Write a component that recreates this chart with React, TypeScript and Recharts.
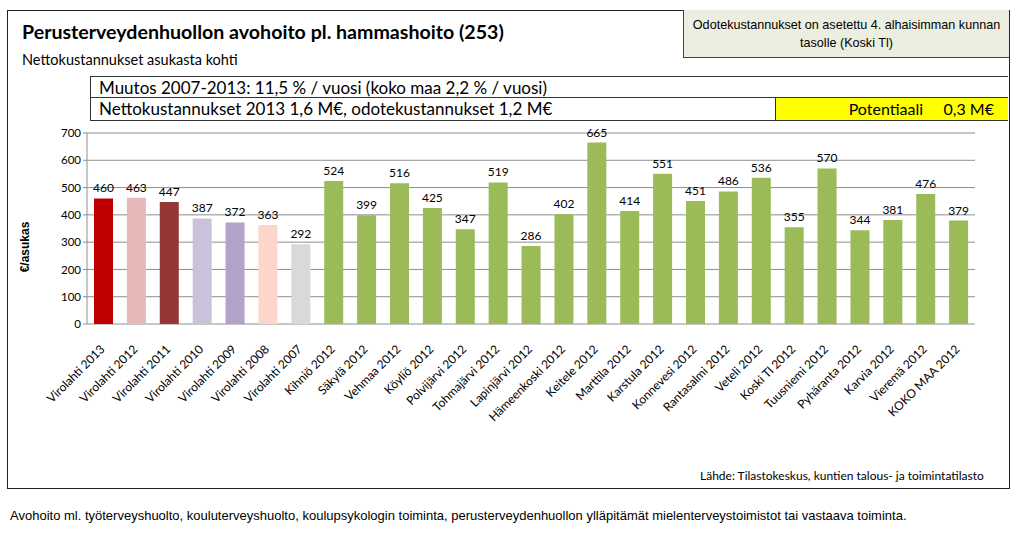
import React from "react"
import { BarChart, Bar, XAxis, YAxis, CartesianGrid, Cell, LabelList } from "recharts"

const categories = [
  "Virolahti 2013", "Virolahti 2012", "Virolahti 2011", "Virolahti 2010", "Virolahti 2009",
  "Virolahti 2008", "Virolahti 2007", "Kihniö 2012", "Säkylä 2012", "Vehmaa 2012",
  "Köyliö 2012", "Polvijärvi 2012", "Tohmajärvi 2012", "Lapinjärvi 2012", "Hämeenkoski 2012",
  "Keitele 2012", "Marttila 2012", "Karstula 2012", "Konnevesi 2012", "Rantasalmi 2012",
  "Veteli 2012", "Koski Tl 2012", "Tuusniemi 2012", "Pyhäranta 2012", "Karvia 2012",
  "Vieremä 2012", "KOKO MAA 2012",
]
const values = [
  460, 463, 447, 387, 372, 363, 292, 524, 399, 516, 425, 347, 519, 286, 402,
  665, 414, 551, 451, 486, 536, 355, 570, 344, 381, 476, 379,
]
const virolahtiColors = ["#c00000", "#e6b9b8", "#953735", "#ccc1da", "#b3a2c7", "#fcd5cb", "#d9d9d9"]
const otherColor = "#9bbb59"
const yTicks = [0, 100, 200, 300, 400, 500, 600, 700]
const edgeTicks = categories.map((_, i) => i).concat(categories.length)

const data = categories.map((name, i) => ({ name, value: values[i] }))

const calibri = "Lato, 'Open Sans', sans-serif"
const arial = "'Liberation Sans', Arial, sans-serif"

function RotatedTick(props: any) {
  const { x, y, payload } = props
  const ax = x + 2
  const ay = y + 18
  return (
    <text x={ax} y={ay} transform={`rotate(-45 ${ax} ${ay})`} textAnchor="end"
      fontSize={12} fill="#000" fontFamily={calibri}>
      {payload.value}
    </text>
  )
}

export default function App() {
  return (
    <div style={{ position: "absolute", left: 0, top: 0, width: 1024, height: 553, background: "#fff" }}>
      <div style={{ position: "absolute", left: 7, top: 10, width: 1001, height: 477, border: "1px solid #222" }} />
      <BarChart width={1024} height={553} data={data} barCategoryGap={7}
        margin={{ top: 133, right: 49, left: 27, bottom: 139 }}
        style={{ position: "absolute", left: 0, top: 0 }}>
        <CartesianGrid vertical={false} stroke="#8e8e8e" />
        <XAxis xAxisId="edge" type="number" domain={[0, categories.length]} ticks={edgeTicks}
          height={0} tick={() => <g />} tickLine={{ stroke: "#8e8e8e" }} tickSize={4} axisLine={{ stroke: "#8e8e8e" }} />
        <XAxis dataKey="name" interval={0} height={90} tick={<RotatedTick />} tickLine={false} axisLine={false} />
        <YAxis width={60} domain={[0, 700]} ticks={yTicks} tickSize={4}
          tick={{ fontSize: 11.5, fill: "#000", fontFamily: calibri }}
          tickLine={{ stroke: "#8e8e8e" }} axisLine={{ stroke: "#8e8e8e" }} />
        <Bar dataKey="value" isAnimationActive={false}>
          {data.map((d, i) => (
            <Cell key={d.name} fill={i < virolahtiColors.length ? virolahtiColors[i] : otherColor} />
          ))}
          <LabelList dataKey="value" position="top" offset={6} fontSize={12} fill="#000" fontFamily={calibri} />
        </Bar>
      </BarChart>

      <div style={{ position: "absolute", left: 22, top: 20, fontFamily: calibri, fontWeight: 700, fontSize: 19.6, color: "#000" }}>
        Perusterveydenhuollon avohoito pl. hammashoito (253)
      </div>
      <div style={{ position: "absolute", left: 22, top: 51, fontFamily: calibri, fontSize: 14.5, color: "#000" }}>
        Nettokustannukset asukasta kohti
      </div>
      <div style={{ position: "absolute", left: 683, top: 10, width: 325, height: 47, background: "#ebeee0",
        border: "1px solid #444", borderTop: "none", borderRight: "none", fontFamily: arial, fontSize: 12.6,
        textAlign: "center", display: "flex", alignItems: "center", justifyContent: "center", lineHeight: "18px" }}>
        Odotekustannukset on asetettu 4. alhaisimman kunnan<br />tasolle (Koski Tl)
      </div>
      <div style={{ position: "absolute", left: 90, top: 76, width: 918, height: 21, borderTop: "1px solid #333",
        borderLeft: "1px solid #333", fontFamily: calibri, fontSize: 17, lineHeight: "21px", paddingLeft: 8, boxSizing: "border-box" }}>
        Muutos 2007-2013: 11,5 % / vuosi (koko maa 2,2 % / vuosi)
      </div>
      <div style={{ position: "absolute", left: 90, top: 97, width: 918, height: 24, border: "1px solid #333",
        borderRight: "none", fontFamily: calibri, fontSize: 17, lineHeight: "22px", paddingLeft: 8, boxSizing: "border-box" }}>
        Nettokustannukset 2013 1,6 M€, odotekustannukset 1,2 M€
      </div>
      <div style={{ position: "absolute", left: 775, top: 98, width: 233, height: 22, background: "#ffff00",
        borderLeft: "1px solid #333", fontFamily: calibri, fontSize: 16, lineHeight: "22px", textAlign: "right",
        paddingRight: 14, boxSizing: "border-box", whiteSpace: "pre" }}>
        {"Potentiaali     0,3 M€"}
      </div>
      <div style={{ position: "absolute", left: 25, top: 247, transform: "translate(-50%, -50%) rotate(-90deg)",
        fontFamily: arial, fontWeight: 700, fontSize: 12, whiteSpace: "nowrap" }}>
        €/asukas
      </div>
      <div style={{ position: "absolute", left: 700, top: 468, fontFamily: calibri, fontSize: 12 }}>
        Lähde: Tilastokeskus, kuntien talous- ja toimintatilasto
      </div>
      <div style={{ position: "absolute", left: 10, top: 508, fontFamily: arial, fontSize: 13 }}>
        Avohoito ml. työterveyshuolto, kouluterveyshuolto, koulupsykologin toiminta, perusterveydenhuollon ylläpitämät mielenterveystoimistot tai vastaava toiminta.
      </div>
    </div>
  )
}
